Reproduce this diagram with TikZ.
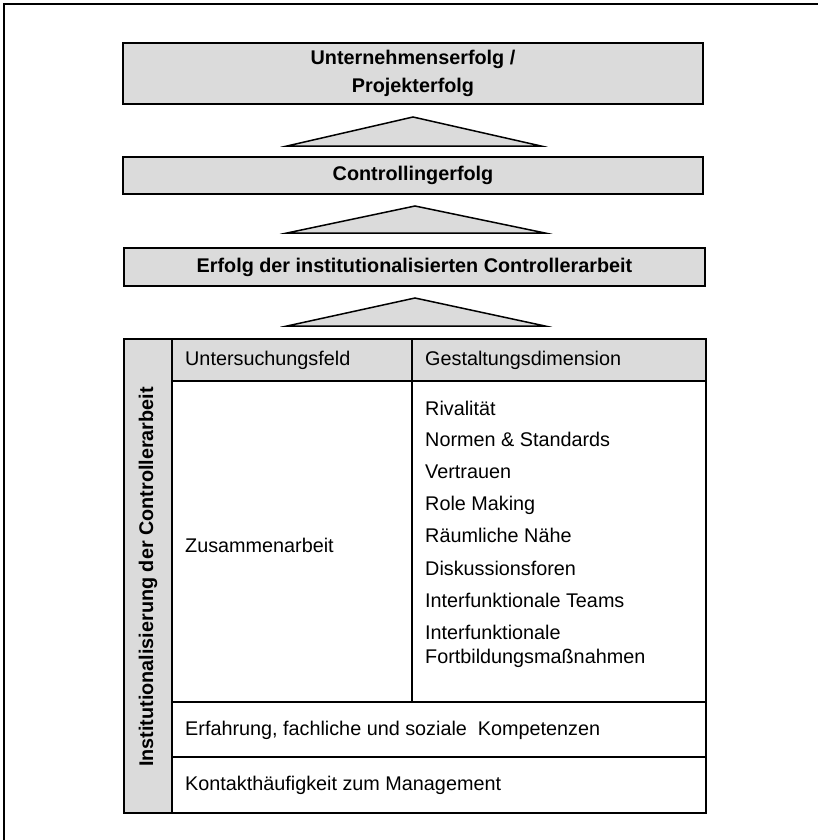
\documentclass[tikz,border=0pt]{standalone}
\usepackage{fontspec}
\setmainfont{Liberation Sans}
\usetikzlibrary{positioning}

\tikzset{
  ebene/.style={draw, line width=1.5pt, fill=gray!28, inner sep=0pt,
    align=center, font=\bfseries\fontsize{19.8}{28}\selectfont},
  pfeil/.style={draw, line width=1.5pt, fill=gray!28, line join=miter},
  zelle/.style={anchor=west, inner sep=0pt, text height=14pt, text depth=4pt,
    font=\fontsize{19.8}{24}\selectfont, align=left},
  linie/.style={line width=1.3pt},
}

\begin{document}
\begin{tikzpicture}[x=1pt,y=-1pt]
  \useasboundingbox (0,0) rectangle (818,840);
  \draw[line width=1.5pt] (4,840) -- (4,4) -- (818,4);

  % drei Erfolgsebenen
  \node[ebene, minimum width=580pt, minimum height=61pt] (unternehmen) at (413,73.5)
    {Unternehmenserfolg /\\Projekterfolg};
  \node[ebene, minimum width=580pt, minimum height=37pt] (controlling) at (413,175.5)
    {Controllingerfolg};
  \node[ebene, minimum width=581pt, minimum height=38pt] (arbeit) at (414.5,267)
    {Erfolg der institutionalisierten Controllerarbeit};

  % Dreiecke
  \draw[pfeil] (287,146) -- (413,117) -- (541,146) -- cycle;
  \draw[pfeil] (287,233) -- (415,206) -- (545,233) -- cycle;
  \draw[pfeil] (287,326) -- (415,298) -- (545,326) -- cycle;

  % Tabelle
  \fill[gray!28] (124,339) rectangle (172,813);
  \fill[gray!28] (172,339) rectangle (706,381);
  \draw[linie] (124,339) rectangle (706,813);
  \draw[linie] (172,339) -- (172,813);
  \draw[linie] (172,381) -- (706,381);
  \draw[linie] (412,339) -- (412,702);
  \draw[linie] (172,702) -- (706,702);
  \draw[linie] (172,757) -- (706,757);

  \node[rotate=90, inner sep=0pt, font=\bfseries\fontsize{19.8}{24}\selectfont]
    (institution) at (148,577) {Institutionalisierung der Controllerarbeit};

  \node[zelle] (feld) at (185,360) {Untersuchungsfeld};
  \node[zelle] (dimension) at (425,360) {Gestaltungsdimension};
  \node[zelle] (zusammen) at (185,547) {Zusammenarbeit};

  \node[zelle] (rival) at (425,410) {Rivalität};
  \node[zelle] (normen) at (425,441) {Normen \& Standards};
  \node[zelle] (vertrauen) at (425,473) {Vertrauen};
  \node[zelle] (role) at (425,505) {Role Making};
  \node[zelle] (naehe) at (425,537) {Räumliche Nähe};
  \node[zelle] (foren) at (425,570) {Diskussionsforen};
  \node[zelle] (teams) at (425,602) {Interfunktionale Teams};
  \node[zelle, text height=, text depth=] (fortbildung) at (425,646)
    {Interfunktionale\\Fortbildungsmaßnahmen};

  \node[zelle] (erfahrung) at (185,730) {Erfahrung, fachliche und soziale\ \ Kompetenzen};
  \node[zelle] (kontakt) at (185,785) {Kontakthäufigkeit zum Management};
\end{tikzpicture}
\end{document}
